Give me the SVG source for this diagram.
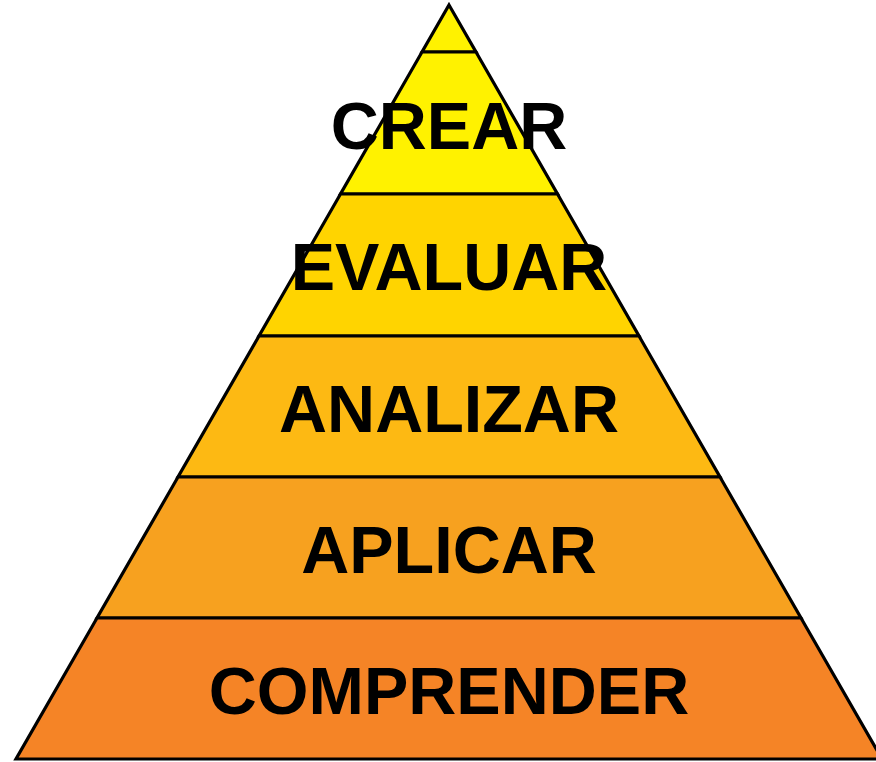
<svg xmlns="http://www.w3.org/2000/svg" width="876" height="762" viewBox="0 0 876 762">
<style>
.b{stroke:#000;stroke-width:3.2;stroke-linejoin:miter}
.t{font-family:"Liberation Sans",Arial,sans-serif;font-weight:bold;font-size:66.5px;fill:#000;text-anchor:middle}
</style>
<rect width="876" height="762" fill="#fff"/>
<g id="apex"><polygon class="b" points="449,5 476,52 422,52" fill="#FFF200"/></g>
<g id="crear"><polygon class="b" points="422,52 476,52 557.5,194 340.5,194" fill="#FFF200"/><text class="t" x="449" y="149">CREAR</text></g>
<g id="evaluar"><polygon class="b" points="340.5,194 557.5,194 639,336 259,336" fill="#FFD400"/><text class="t" x="449" y="290">EVALUAR</text></g>
<g id="analizar"><polygon class="b" points="259,336 639,336 720,477 178,477" fill="#FDB913"/><text class="t" x="449" y="432">ANALIZAR</text></g>
<g id="aplicar"><polygon class="b" points="178,477 720,477 801,618 97,618" fill="#F7A11F"/><text class="t" x="449" y="573">APLICAR</text></g>
<g id="comprender"><polygon class="b" points="97,618 801,618 882,759 16,759" fill="#F58426"/><text class="t" x="449" y="714">COMPRENDER</text></g>
<g id="connectors"/>
</svg>
